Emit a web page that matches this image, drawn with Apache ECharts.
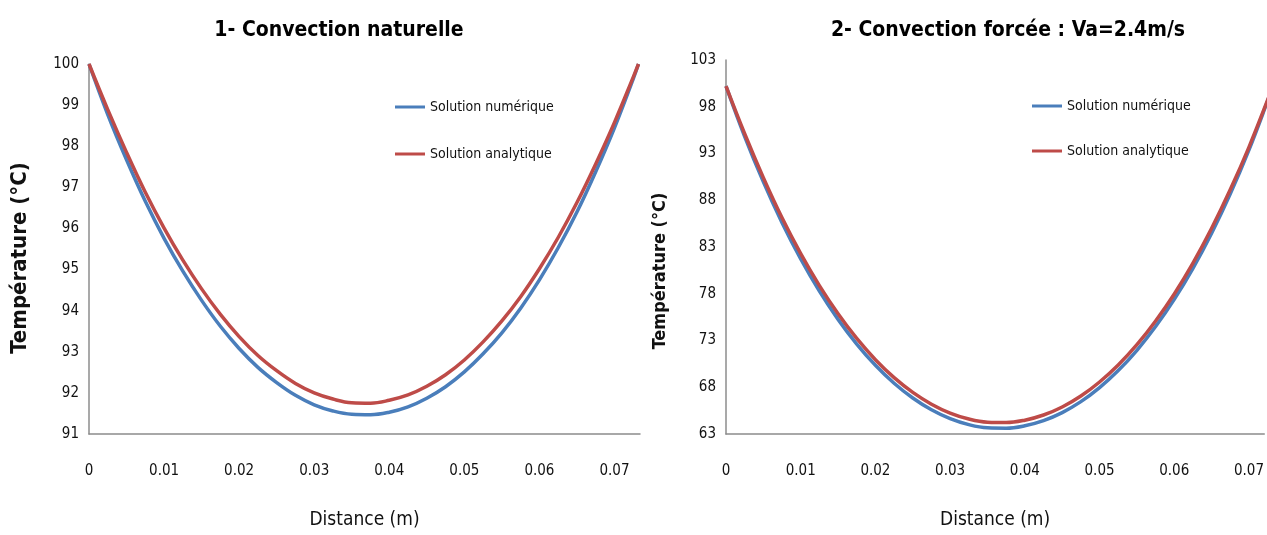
<!DOCTYPE html>
<html>
<head>
<meta charset="utf-8">
<script src="https://cdn.jsdelivr.net/npm/echarts@6/dist/echarts.min.js"></script>
<style>
  html, body { margin: 0; padding: 0; background: #fff; }
  #chart { width: 1267px; height: 535px; }
</style>
</head>
<body>
<div id="chart"></div>
<script>
// distance along the rod (m)
const distance = [0, 0.0025, 0.005, 0.0075, 0.01, 0.0125, 0.015, 0.0175, 0.02, 0.0225, 0.025, 0.0275,
  0.03, 0.0325, 0.035, 0.0375, 0.04, 0.0425, 0.045, 0.0475, 0.05, 0.0525, 0.055, 0.0575,
  0.06, 0.0625, 0.065, 0.0675, 0.07, 0.0725, 0.0732];

// 1- convection naturelle
const natNumerique = [100.00, 98.77, 97.67, 96.66, 95.76, 94.96, 94.25, 93.62, 93.08, 92.62, 92.25, 91.94,
  91.71, 91.56, 91.48, 91.47, 91.53, 91.66, 91.87, 92.15, 92.51, 92.95, 93.46, 94.06,
  94.75, 95.53, 96.40, 97.38, 98.45, 99.64, 100.00];
const natAnalytique = [100.00, 98.89, 97.85, 96.88, 96.01, 95.23, 94.53, 93.91, 93.37, 92.91, 92.54, 92.23,
  92.00, 91.85, 91.76, 91.75, 91.82, 91.95, 92.16, 92.44, 92.80, 93.24, 93.75, 94.34,
  95.02, 95.78, 96.63, 97.57, 98.58, 99.68, 100.00];

// 2- convection forcée, Va = 2.4 m/s
const forNumerique = [100.2, 94.81, 89.96, 85.60, 81.73, 78.29, 75.26, 72.62, 70.35, 68.43, 66.85, 65.59,
  64.64, 64.00, 63.66, 63.62, 63.88, 64.43, 65.29, 66.46, 67.96, 69.78, 71.95, 74.49,
  77.40, 80.72, 84.48, 88.69, 93.39, 98.63, 100.2];
const forAnalytique = [100.2, 95.11, 90.41, 86.12, 82.29, 78.87, 75.86, 73.22, 70.95, 69.03, 67.45, 66.19,
  65.24, 64.60, 64.26, 64.22, 64.48, 65.03, 65.89, 67.06, 68.56, 70.38, 72.55, 75.09,
  77.98, 81.28, 85.00, 89.14, 93.69, 98.73, 100.2];

const nameNum = 'Solution numérique';
const nameAna = 'Solution analytique';

const font = '"Liberation Sans Narrow", "DejaVu Sans Condensed", sans-serif';
const blue = '#4A7EBB';
const red = '#BE4B48';
const axisGray = '#8c8c8c';

const pairs = (ys) => distance.map((x, i) => [x, ys[i]]);

function xAxisFor(gridIndex, max) {
  return {
    type: 'value', gridIndex, min: 0, max, interval: 0.01,
    name: 'Distance (m)', nameLocation: 'middle', nameGap: 77,
    nameTextStyle: { fontFamily: font, fontSize: 19, color: '#111' },
    axisLine: { lineStyle: { color: axisGray, width: 1.5 } },
    axisTick: { show: false },
    splitLine: { show: false },
    axisLabel: {
      margin: 30, fontFamily: font, fontSize: 15, color: '#111', showMaxLabel: false,
      formatter: (v) => String(+v.toFixed(2))
    }
  };
}

function yAxisFor(gridIndex, min, max, interval, gap, nameSize, shift) {
  return {
    type: 'value', gridIndex, min, max, interval,
    name: 'Température (°C)', nameLocation: 'middle', nameGap: gap, nameRotate: 90,
    nameTextStyle: {
      fontFamily: font, fontSize: nameSize, fontWeight: 'bold', color: '#111',
      padding: [0, shift, 0, 0]
    },
    axisLine: { show: true, lineStyle: { color: axisGray, width: 1.5 } },
    axisTick: { show: false },
    splitLine: { show: false },
    axisLabel: { margin: 10, fontFamily: font, fontSize: 15, color: '#111' }
  };
}

function line(name, idx, ys, color) {
  return {
    name, type: 'line', xAxisIndex: idx, yAxisIndex: idx,
    data: pairs(ys), smooth: 0.4, showSymbol: false, clip: true,
    lineStyle: { color, width: 3.5 }, itemStyle: { color },
    animation: false
  };
}

function legendAt(left, top, gap) {
  return {
    left, top, orient: 'vertical', itemGap: gap, itemWidth: 30, itemHeight: 3,
    icon: 'rect', data: [nameNum, nameAna],
    textStyle: { fontFamily: font, fontSize: 14, color: '#111' }
  };
}

const chart = echarts.init(document.getElementById('chart'));
chart.setOption({
  backgroundColor: '#fff',
  title: [
    { text: '1- Convection naturelle', left: 334, top: 15, textAlign: 'center',
      textStyle: { fontFamily: font, fontSize: 21, fontWeight: 'bold', color: '#000' } },
    { text: '2- Convection forcée : Va=2.4m/s', left: 1003, top: 15, textAlign: 'center',
      textStyle: { fontFamily: font, fontSize: 21, fontWeight: 'bold', color: '#000' } }
  ],
  legend: [legendAt(390, 95, 33), legendAt(1027, 94, 31)],
  grid: [
    { left: 89, top: 64, width: 551, height: 373 },
    { left: 726, top: 60, width: 541, height: 376 }
  ],
  xAxis: [xAxisFor(0, 0.0734), xAxisFor(1, 0.07204)],
  yAxis: [yAxisFor(0, 91, 100, 1, 58, 22, 18), yAxisFor(1, 63, 103, 5, 57, 18, 48)],
  series: [
    line(nameNum, 0, natNumerique, blue),
    line(nameAna, 0, natAnalytique, red),
    line(nameNum, 1, forNumerique, blue),
    line(nameAna, 1, forAnalytique, red)
  ]
});
</script>
</body>
</html>
